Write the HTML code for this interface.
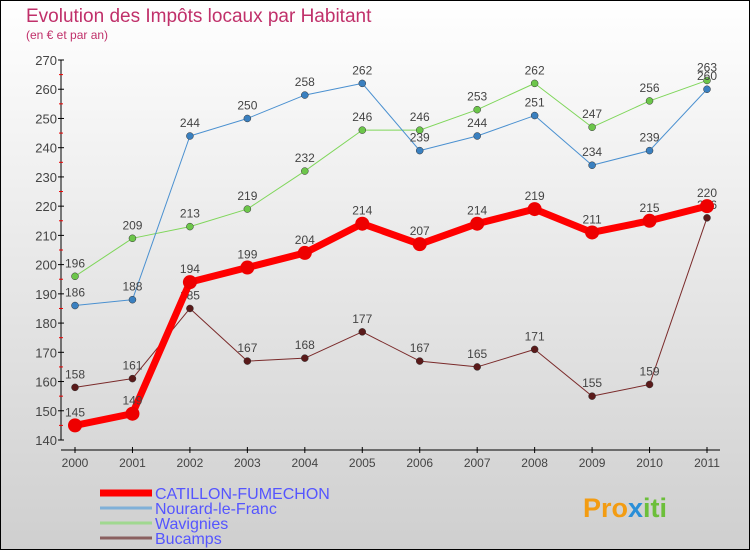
<!DOCTYPE html>
<html><head><meta charset="utf-8"><style>
body{margin:0;width:750px;height:550px;overflow:hidden}
svg{display:block;font-family:"Liberation Sans",sans-serif}
</style></head><body>
<svg id="c" width="750" height="550">
<defs><linearGradient id="bg" x1="0" y1="0" x2="0" y2="1"><stop offset="0" stop-color="#ffffff"/><stop offset="1" stop-color="#cfcfcf"/></linearGradient></defs>
<rect x="0.5" y="0.5" width="749" height="549" fill="url(#bg)" stroke="#000"/>
<text x="26" y="22" font-size="19" fill="#c0306a">Evolution des Impôts locaux par Habitant</text>
<text x="26" y="39" font-size="12" fill="#c0306a">(en € et par an)</text>
<g id="axes"></g><g id="series"></g><g id="legend"></g>
<text x="583" y="517" font-size="27" font-weight="bold" fill="#f39c12">Pro<tspan fill="#2a8fd8">x</tspan><tspan fill="#6cbf3a">iti</tspan></text>
</svg>
<script>
const years=[2000,2001,2002,2003,2004,2005,2006,2007,2008,2009,2010,2011];
const yTicks=[140,150,160,170,180,190,200,210,220,230,240,250,260,270];
const catillon=[145,149,194,199,204,214,207,214,219,211,215,220];
const nourard=[186,188,244,250,258,262,239,244,251,234,239,260];
const wavignies=[196,209,213,219,232,246,246,253,262,247,256,263];
const bucamps=[158,161,185,167,168,177,167,165,171,155,159,216];
const names=["CATILLON-FUMECHON","Nourard-le-Franc","Wavignies","Bucamps"];
const NS="http://www.w3.org/2000/svg";
const X=i=>75+i*(707-75)/11;
const Y=v=>440-(v-140)*(380/130);
function mk(tag,attrs,parent){const e=document.createElementNS(NS,tag);for(const k in attrs)e.setAttribute(k,attrs[k]);parent.appendChild(e);return e;}
const ax=document.getElementById('axes');
let l=mk('line',{x1:61,y1:60,x2:61,y2:440,stroke:'#000'},ax);


l=mk('line',{x1:61,y1:450,x2:720,y2:450,stroke:'#000'},ax);


yTicks.forEach(v=>{
 mk('line',{x1:58,x2:64,y1:Y(v),y2:Y(v),stroke:'#000'},ax);
 if(v<270)mk('line',{x1:59,x2:63,y1:Y(v+5),y2:Y(v+5),stroke:'#e00'},ax);
 const t=mk('text',{x:57,y:Y(v)+5,'font-size':13,fill:'#444','text-anchor':'end'},ax);t.textContent=v;
 
 
});
years.forEach((yr,i)=>{
 mk('line',{x1:X(i),x2:X(i),y1:447,y2:453,stroke:'#000'},ax);
 const t=mk('text',{x:X(i),y:467,'font-size':12,fill:'#444','text-anchor':'middle'},ax);t.textContent=yr;
 
 
});
const sg=document.getElementById('series');
const defs=[[bucamps,'#7a2a2a','#5a1a1a',1,3.5,'bucamps'],[wavignies,'#7fd65a','#6cc64a',1,3.5,'wavignies'],[nourard,'#4a90d0','#3a80c0',1,3.5,'nourard'],[catillon,'#ff0000','#ee0000',7,7,'catillon']];
defs.forEach(([d,c,pc,w,r,n])=>{
 const g=mk('g',{},sg);
 
 
 const p=mk('polyline',{points:d.map((v,i)=>X(i)+','+Y(v)).join(' '),fill:'none',stroke:c,'stroke-width':w,'stroke-linejoin':'round'},g);
 
 
 d.forEach((v,i)=>{
  const ci=mk('circle',{cx:X(i),cy:Y(v),r:r,fill:pc,stroke:w>1?'none':'#333','stroke-width':0.5},g);
  
  
  const t=mk('text',{x:X(i),y:Y(v)-9,'font-size':12,fill:'#444','text-anchor':'middle'},g);t.textContent=v;
  
  
 });
});
const lg=document.getElementById('legend');
const lc=['#ff0000','#7fb0d8','#a0d890','#8a6060'],lw=[7,3,3,3],ly=[493,508,523,538];
names.forEach((nm,i)=>{
 const g=mk('g',{},lg);
 
 
 mk('line',{x1:100,x2:152,y1:ly[i],y2:ly[i],stroke:lc[i],'stroke-width':lw[i]},g);
 const t=mk('text',{x:155,y:ly[i]+6,'font-size':16,fill:'#5555ff'},g);t.textContent=nm;
});
</script>
</body></html>
